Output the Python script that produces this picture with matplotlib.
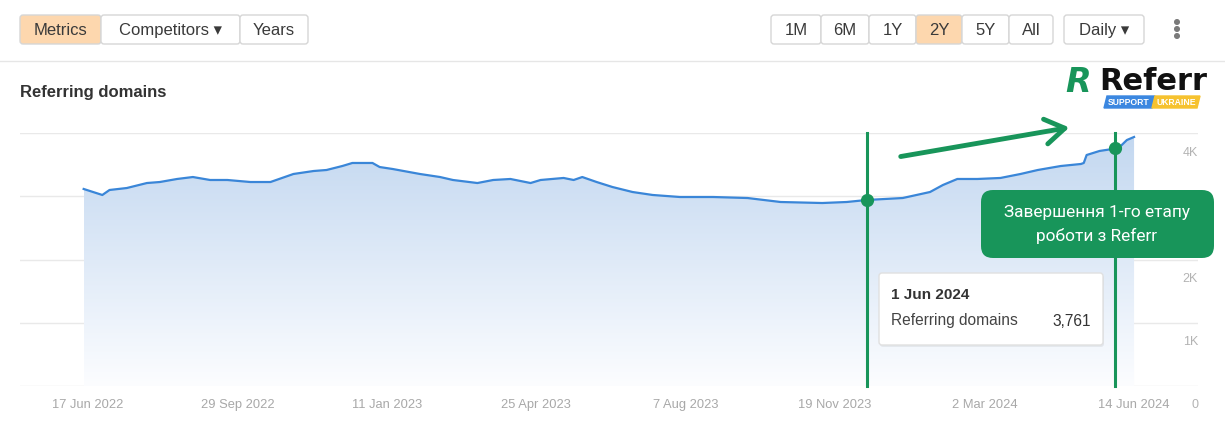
import matplotlib
matplotlib.use("Agg")
import matplotlib.pyplot as plt
import matplotlib.dates as mdates
import matplotlib.transforms as mtransforms
from matplotlib.patches import FancyBboxPatch, Polygon, FancyArrowPatch, Circle
from matplotlib.colors import LinearSegmentedColormap
import numpy as np
import pandas as pd

# Referring domains
dates = ["2022-06-14", "2022-06-27", "2022-07-02", "2022-07-14", "2022-07-28",
         "2022-08-06", "2022-08-18", "2022-08-29", "2022-09-10", "2022-09-22",
         "2022-10-08", "2022-10-22", "2022-11-07", "2022-11-21", "2022-11-30",
         "2022-12-11", "2022-12-18", "2023-01-01", "2023-01-06", "2023-01-15",
         "2023-02-03", "2023-02-17", "2023-02-26", "2023-03-15", "2023-03-26",
         "2023-04-07", "2023-04-21", "2023-04-28", "2023-05-14", "2023-05-21",
         "2023-05-27", "2023-06-06", "2023-06-17", "2023-07-01", "2023-07-15",
         "2023-08-03", "2023-08-26", "2023-09-19", "2023-10-12", "2023-11-10",
         "2023-11-27", "2023-12-11", "2024-01-05", "2024-01-24", "2024-02-02",
         "2024-02-12", "2024-02-26", "2024-03-13", "2024-03-27", "2024-04-08",
         "2024-04-24", "2024-05-08", "2024-05-10", "2024-05-12", "2024-05-21",
         "2024-05-30", "2024-06-01", "2024-06-04", "2024-06-09", "2024-06-14"]
domains = [3115, 3020, 3099, 3130, 3209,
           3225, 3273, 3304, 3257, 3257,
           3225, 3225, 3352, 3399, 3415,
           3478, 3526, 3526, 3462, 3431,
           3352, 3304, 3257, 3209, 3257,
           3273, 3209, 3257, 3289, 3257,
           3304, 3225, 3146, 3067, 3020,
           2988, 2988, 2972, 2909, 2893,
           2909, 2941, 2972, 3067, 3178,
           3273, 3273, 3289, 3352, 3415,
           3478, 3510, 3526, 3652, 3716,
           3747, 3761, 3779, 3889, 3937]

marker_dates = ["2023-12-11", "2024-06-01"]
marker_values = [2941, 3761]

tick_dates = ["2022-06-17", "2022-09-29", "2023-01-11", "2023-04-25",
              "2023-08-07", "2023-11-19", "2024-03-02", "2024-06-14"]
tick_labels = ["17 Jun 2022", "29 Sep 2022", "11 Jan 2023", "25 Apr 2023",
               "7 Aug 2023", "19 Nov 2023", "2 Mar 2024", "14 Jun 2024"]
y_ticks = [0, 1000, 2000, 3000, 4000]
y_labels = ["0", "1K", "2K", "3K", "4K"]

W, H = 1225, 429
GREEN = "#18955a"
BLUE = "#3a86d8"

plt.rcParams["font.family"] = ["Liberation Sans", "DejaVu Sans"]

fig = plt.figure(figsize=(W / 100, H / 100), dpi=100)
fig.patch.set_facecolor("white")

ax = fig.add_axes([20 / W, 1 - 386 / H, (1198 - 20) / W, (386 - 133) / H])
x = mdates.date2num(pd.to_datetime(dates))
y = np.array(domains)

# gradient fill under the line
poly = ax.fill_between(x, y, 0, color="none", lw=0)
cmap = LinearSegmentedColormap.from_list("fill", ["#fcfdff", "#c2d7f0"])
grad = np.linspace(0, 1, 256).reshape(-1, 1)
im = ax.imshow(grad, extent=[x[0], x[-1], 0, 4000], origin="lower",
               aspect="auto", cmap=cmap, zorder=1)
im.set_clip_path(poly.get_paths()[0], transform=ax.transData)
ax.plot(x, y, color=BLUE, lw=1.6, zorder=3)

mx = mdates.date2num(pd.to_datetime(marker_dates))
for d in mx:
    ax.axvline(d, color=GREEN, lw=2.2, zorder=4, clip_on=False)
ax.plot(mx, marker_values, "o", color=GREEN, ms=8.5, zorder=5)

x0 = mdates.date2num(pd.Timestamp("2022-06-17"))
ax.set_xlim(x0 - 47.3, x0 + 772.5)
ax.set_ylim(0, 4000)
ax.set_xticks(mdates.date2num(pd.to_datetime(tick_dates)))
ax.set_xticklabels(tick_labels)
ax.set_yticks(y_ticks)
ax.set_yticklabels(y_labels)
ax.yaxis.tick_right()
ax.tick_params(axis="x", length=0, pad=15.5, labelsize=9.3, labelcolor="#a8a8a8")
ax.tick_params(axis="y", length=0, pad=0, labelsize=9, labelcolor="#b3b3b3")
for lab in ax.get_xticklabels():
    lab.set_verticalalignment("baseline")
shift = mtransforms.ScaledTranslation(0, -0.18, fig.dpi_scale_trans)
for lab in ax.get_yticklabels():
    lab.set_horizontalalignment("right")
    lab.set_transform(lab.get_transform() + shift)
    if lab.get_text() == "3K":  # sits under the callout in the original
        lab.set_visible(False)
ax.grid(axis="y", color="#e9e9e9", lw=1)
ax.set_axisbelow(True)
for s in ax.spines.values():
    s.set_visible(False)

# overlay in pixel coordinates for the page chrome
ov = fig.add_axes([0, 0, 1, 1], zorder=10)
ov.set_xlim(0, W)
ov.set_ylim(H, 0)
ov.axis("off")


def button(x0, x1, text, active=False, y0=15, y1=44):
    fc = "#fdd7ae" if active else "white"
    ov.add_patch(FancyBboxPatch((x0, y0), x1 - x0, y1 - y0,
                                boxstyle="round,pad=0,rounding_size=3",
                                fc=fc, ec="#d6d6d6", lw=1))
    ov.text((x0 + x1) / 2, (y0 + y1) / 2 + 1, text, ha="center", va="center",
            fontsize=12, color="#3a3a3a", family=["Liberation Sans", "DejaVu Sans"])


button(20, 101, "Metrics", True)
button(101, 240, "Competitors \u25BE")
button(240, 308, "Years")
for bx0, bx1, t in [(771, 821, "1M"), (821, 869, "6M"), (869, 916, "1Y"),
                    (916, 962, "2Y"), (962, 1009, "5Y"), (1009, 1053, "All")]:
    button(bx0, bx1, t, t == "2Y")
button(1064, 1144, "Daily \u25BE")
for dy in (22, 29, 36):
    ov.add_patch(Circle((1177, dy), 2.3, color="#7a7a7a"))
ov.plot([0, W], [61, 61], color="#e6e6e6", lw=1)

ov.text(20, 92, "Referring domains", fontsize=12, fontweight="bold",
        color="#333333", va="center")

# logo
ov.text(1078, 82, "R", fontsize=24, fontweight="heavy", fontstyle="italic",
        color=GREEN, ha="center", va="center", family="DejaVu Sans")
ov.text(1099, 81, "Referr", fontsize=22, fontweight="bold", color="#111111",
        ha="left", va="center", family="DejaVu Sans")
ov.add_patch(Polygon([(1107, 96), (1155, 96), (1152, 108), (1104, 108)],
                     closed=True, color="#3b87e0"))
ov.add_patch(Polygon([(1155, 96), (1200, 96), (1197, 108), (1152, 108)],
                     closed=True, color="#f6c22f"))
ov.text(1129, 102.5, "SUPPORT", fontsize=6.2, fontweight="bold", color="white",
        ha="center", va="center")
ov.text(1176, 102.5, "UKRAINE", fontsize=6.2, fontweight="bold", color="white",
        ha="center", va="center")

# arrow
ov.add_patch(FancyArrowPatch((898, 157), (1072, 127),
                             arrowstyle="->,head_length=0.7,head_width=0.45",
                             mutation_scale=20, color=GREEN, lw=3.5,
                             capstyle="round", joinstyle="round"))

# callout
ov.add_patch(FancyBboxPatch((981, 190), 233, 68,
                            boxstyle="round,pad=0,rounding_size=12",
                            fc=GREEN, ec="none"))
ov.text(1097, 213, "Завершення 1-го етапу", fontsize=12.4, color="white",
        ha="center", va="center", family="Roboto")
ov.text(1097, 236, "роботи з Referr", fontsize=12.4, color="white",
        ha="center", va="center", family="Roboto")

# tooltip
ov.add_patch(FancyBboxPatch((880, 275), 224, 72,
                            boxstyle="round,pad=0,rounding_size=3",
                            fc="#000000", ec="none", alpha=0.06))
ov.add_patch(FancyBboxPatch((879, 273), 224, 72,
                            boxstyle="round,pad=0,rounding_size=3",
                            fc="white", ec="#e0e0e0", lw=1))
ov.text(891, 295, "1 Jun 2024", fontsize=11, fontweight="bold",
        color="#333333", va="center")
ov.text(891, 321, "Referring domains", fontsize=11.2, color="#444444",
        va="center")
ov.text(1091, 322, "3,761", fontsize=11.2, color="#333333", va="center", ha="right")

fig.savefig("out.png", dpi=100, facecolor="white")
